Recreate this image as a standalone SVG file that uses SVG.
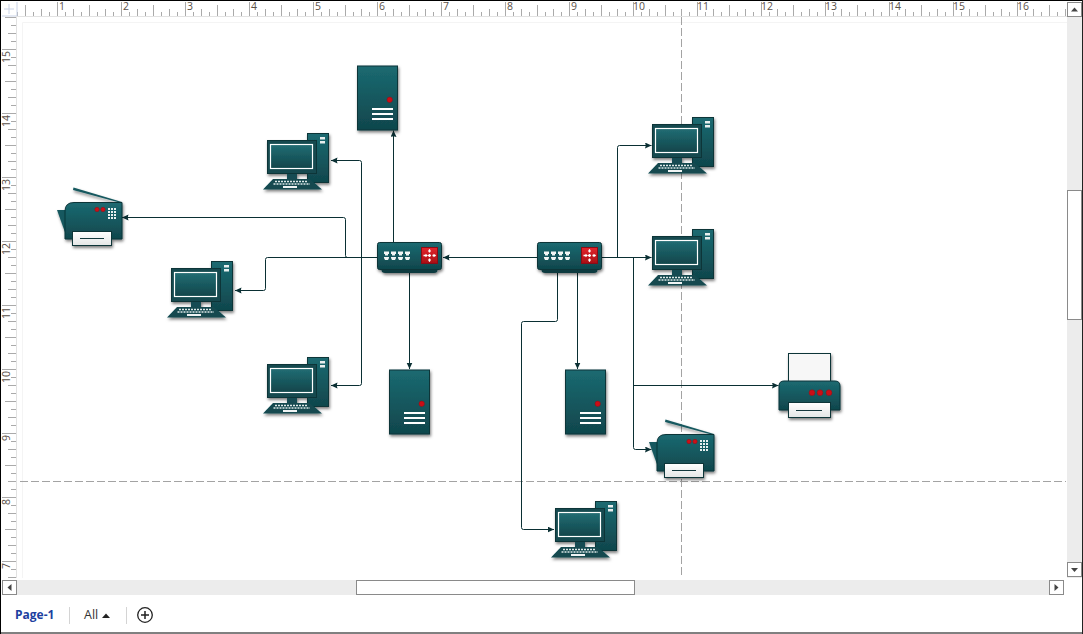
<svg xmlns="http://www.w3.org/2000/svg" width="1083" height="634" viewBox="0 0 1083 634">
<style>
.wire{fill:none;stroke:#0a2f33;stroke-width:1;marker-end:url(#tip)}
.edge{stroke:#0a3438;stroke-width:1}
.guide{stroke:#a3a3a3;stroke-width:1;stroke-dasharray:8 3;fill:none}
.rul{font:10.5px "Open Sans","Liberation Sans",sans-serif;fill:#5a5048}
.btn{fill:#fff;stroke:#8a8a8a;stroke-width:1}
.track{fill:#ececec}
.led{fill:#cc0f18;stroke:#8e1016;stroke-width:.5}
</style>
<defs>
<linearGradient id="teal" x1="0" y1="0" x2="0" y2="1"><stop offset="0" stop-color="#1b6a71"/><stop offset="1" stop-color="#10464c"/></linearGradient>
<linearGradient id="scr" x1="0" y1="0" x2="0" y2="1"><stop offset="0" stop-color="#226d74"/><stop offset="1" stop-color="#10454a"/></linearGradient>
<linearGradient id="red" x1="0" y1="0" x2="0" y2="1"><stop offset="0" stop-color="#e4252c"/><stop offset="1" stop-color="#a80f14"/></linearGradient>
<linearGradient id="paper" x1="0" y1="0" x2="0" y2="1"><stop offset="0" stop-color="#ffffff"/><stop offset="1" stop-color="#e4e6e6"/></linearGradient>
<filter id="soft" x="-20%" y="-20%" width="140%" height="140%"><feDropShadow dx="1" dy="2" stdDeviation="1.5" flood-color="#000" flood-opacity=".5"/></filter>
<marker id="tip" markerUnits="userSpaceOnUse" markerWidth="8" markerHeight="8" refX="6.500" refY="3" orient="auto"><path d="M0 0L6.500 3L0 6L.8 3Z" fill="#0a2f33"/></marker>
<pattern id="tickH" patternUnits="userSpaceOnUse" x="57" y="0" width="64" height="16">
<path d="M.5 2V16M8.500 12V16M16.500 9V16M24.500 12V16M32.500 5V16M40.500 12V16M48.500 9V16M56.500 12V16" stroke="#aaa" fill="none"/>
</pattern>
<pattern id="tickV" patternUnits="userSpaceOnUse" x="0" y="49" width="16" height="64">
<path d="M2 .5H16M11 8.500H16M8 16.500H16M11 24.500H16M5 32.500H16M11 40.500H16M8 48.500H16M11 56.500H16" stroke="#aaa" fill="none"/>
</pattern>
<!-- Tower server, origin at its top-left corner -->
<g id="server" filter="url(#soft)">
<rect x=".5" y=".5" width="40" height="64" fill="url(#teal)" class="edge"/>
<circle cx="32.700" cy="34.300" r="2.700" class="led"/>
<path d="M15 43.500H36M15 48.500H36M15 53.500H36" stroke="#fff" stroke-width="2"/>
</g>
<!-- Desktop computer, origin at the monitor's left and the tower's top -->
<g id="pc" filter="url(#soft)">
<rect x="40.500" y=".5" width="21" height="49" fill="url(#teal)" class="edge"/>
<rect x="53" y="4" width="5" height="2.500" fill="#e8eeee"/><rect x="53" y="8" width="5" height="2.500" fill="#e8eeee"/>
<rect x="20" y="39" width="10" height="8" fill="#134c52"/>
<rect x=".5" y="7.500" width="49" height="33" fill="#124a50" class="edge"/>
<rect x="3.500" y="11.500" width="42" height="24" fill="url(#scr)" stroke="#fff" stroke-width="1.200"/>
<path d="M6 46H43L55 56.500H-4Z" fill="#124a50"/>
<path d="M8 48.500H41M6.500 51H43" stroke="#dfe8e8" stroke-width="1.600" stroke-dasharray="2 1"/>
<rect x="16" y="53" width="14" height="2" fill="#f0f4f4"/>
</g>
<!-- Multifunction fax, origin at body left, body top -->
<g id="fax">
<g filter="url(#soft)">
<path d="M8 -12L8.500 -14.500L57 0L56 1Z" fill="#17595f"/>
<path d="M-8 8H1L2 36Z" fill="#17595f"/>
<path d="M9 .5H57V37H0V9Q0 .5 9 .5Z" fill="url(#teal)" class="edge"/>
<rect x="7.500" y="29.500" width="39" height="14" fill="url(#paper)" stroke="#0a3438"/>
</g>
<path d="M15 36.500H39" stroke="#12383c" stroke-width="1"/>
<circle cx="32" cy="7.500" r="2.200" class="led"/><circle cx="38" cy="7.500" r="2.200" class="led"/>
<path d="M43 7H52M43 10H52M43 13H52M43 16H52" stroke="#e8f0f0" stroke-width="1.800" stroke-dasharray="2 1"/>
</g>
<!-- Network switch, origin at its top-left corner -->
<g id="sw" filter="url(#soft)">
<path d="M4.500 26H60.500V28Q60.500 31 57 31H8Q4.500 31 4.500 28Z" fill="#0d3a3f"/>
<rect x=".5" y=".5" width="64" height="27" rx="2" fill="url(#teal)" class="edge"/>
<g fill="#f2f6f6">
<path d="M7 9.500H12V12H11V13.500H8V12H7ZM14 9.500H19V12H18V13.500H15V12H14ZM21 9.500H26V12H25V13.500H22V12H21ZM28 9.500H33V12H32V13.500H29V12H28Z"/>
<path d="M7 15H12V16L11 18H8L7 16ZM14 15H19V16L18 18H15L14 16ZM21 15H26V16L25 18H22L21 16ZM28 15H33V16L32 18H29L28 16Z"/>
</g>
<rect x="44.500" y="5.500" width="16" height="16" fill="url(#red)" stroke="#8a1015"/>
<path d="M52.500 7.500V19.500M46.500 13.500H58.500" stroke="#fff" stroke-width="1.300" stroke-dasharray="3 1.500"/>
<path d="M52.500 7L50.800 9.500H54.200ZM52.500 20L50.800 17.500H54.200ZM59 13.500L56.500 11.800V15.200ZM51 13.500L48.500 11.800V15.200Z" fill="#fff"/>
</g>
<!-- Desk printer, origin at body left, paper top -->
<g id="printer" filter="url(#soft)">
<rect x="9.500" y=".5" width="42" height="30" fill="#f7f7f7" stroke="#0a3438"/>
<path d="M5 28H56Q61 28 61 33V57H0V33Q0 28 5 28Z" fill="url(#teal)" class="edge"/>
<rect x="9.500" y="49.500" width="42" height="15" fill="url(#paper)" stroke="#0a3438"/>
<path d="M17 57.500H43" stroke="#12383c"/>
<circle cx="33" cy="39.700" r="2.900" class="led"/><circle cx="41" cy="39.700" r="2.900" class="led"/><circle cx="50" cy="39.700" r="2.900" class="led"/>
</g>
</defs>

<rect width="1083" height="634" fill="#fff"/>

<!-- Rulers -->
<g id="rulers">
<rect x="17" y="2" width="1050" height="14" fill="url(#tickH)"/>
<rect x="2" y="17" width="14" height="561" fill="url(#tickV)"/>
<path d="M17 2V16H2M9 4V14M4 9H14" stroke="#c9d2e6" fill="none"/>
<path d="M16.500 16.500H1067M16.500 16.500V578" stroke="#e2e2e2" fill="none"/>
<g class="rul">
<text x="59" y="10">1</text><text x="123" y="10">2</text><text x="187" y="10">3</text><text x="251" y="10">4</text>
<text x="315" y="10">5</text><text x="379" y="10">6</text><text x="443" y="10">7</text><text x="507" y="10">8</text>
<text x="571" y="10">9</text><text x="633" y="10">10</text><text x="697" y="10">11</text><text x="761" y="10">12</text>
<text x="825" y="10">13</text><text x="889" y="10">14</text><text x="953" y="10">15</text><text x="1017" y="10">16</text>
<text transform="translate(10 63) rotate(-90)">15</text><text transform="translate(10 127) rotate(-90)">14</text>
<text transform="translate(10 191) rotate(-90)">13</text><text transform="translate(10 255) rotate(-90)">12</text>
<text transform="translate(10 319) rotate(-90)">11</text><text transform="translate(10 383) rotate(-90)">10</text>
<text transform="translate(10 441) rotate(-90)">9</text><text transform="translate(10 505) rotate(-90)">8</text>
<text transform="translate(10 569) rotate(-90)">7</text>
</g>
</g>

<!-- Page outline and drawing guides -->
<path d="M22.500 578V22.500H1067" fill="none" stroke="#f4f4f4"/>
<path class="guide" d="M681.500 17V578"/>
<path class="guide" d="M20 481.500H1066"/>

<!-- Connectors -->
<g id="connectors">
<path class="wire" d="M393.500 242V130.500"/>
<path class="wire" d="M377 257.500H347.500Q345.500 257.500 345.500 255.500V219.500Q345.500 217.500 343.500 217.500H122"/>
<path class="wire" d="M377 257.500H267.500Q265.500 257.500 265.500 259.500V288.500Q265.500 290.500 263.500 290.500H235"/>
<path class="wire" d="M361.500 257.500V162.500Q361.500 160.500 359.500 160.500H331"/>
<path class="wire" d="M361.500 257.500V383.500Q361.500 385.500 359.500 385.500H331"/>
<path class="wire" d="M409.500 273V369"/>
<path class="wire" d="M537 257.500H443"/>
<path class="wire" d="M577.500 273V369"/>
<path class="wire" d="M557.500 273V319.500Q557.500 321.500 555.500 321.500H523.500Q521.500 321.500 521.500 323.500V527.500Q521.500 529.500 523.500 529.500H554"/>
<path class="wire" d="M602 257.500H651.500"/>
<path class="wire" d="M617.500 257.500V147.500Q617.500 145.500 619.500 145.500H651.500"/>
<path class="wire" d="M633.500 257.500V447.500Q633.500 449.500 635.500 449.500H651.500"/>
<path class="wire" d="M633.500 385.500H778.500"/>
</g>

<!-- Nodes -->
<g id="server-top"><use href="#server" x="357" y="65.500"/></g>
<g id="server-left"><use href="#server" x="389" y="369.500"/></g>
<g id="server-right"><use href="#server" x="565" y="369.500"/></g>
<g id="pc-upper-left"><use href="#pc" x="267" y="133"/></g>
<g id="pc-middle-left"><use href="#pc" x="171" y="261"/></g>
<g id="pc-lower-left"><use href="#pc" x="267" y="357"/></g>
<g id="pc-upper-right"><use href="#pc" x="652" y="117"/></g>
<g id="pc-middle-right"><use href="#pc" x="652" y="229"/></g>
<g id="pc-bottom"><use href="#pc" x="555" y="501"/></g>
<g id="fax-left"><use href="#fax" x="65" y="202"/></g>
<g id="fax-right"><use href="#fax" x="657" y="434"/></g>
<g id="switch-left"><use href="#sw" x="377" y="242"/></g>
<g id="switch-right"><use href="#sw" x="537" y="242"/></g>
<g id="printer-right"><use href="#printer" x="779" y="353"/></g>

<!-- Scroll bars -->
<g id="scrollbars">
<rect class="track" x="1067" y="16" width="15" height="562"/>
<rect class="track" x="17" y="580" width="1032" height="15"/>
<rect class="btn" x="1067.500" y="2.500" width="14" height="14"/>
<path d="M1071 11.500L1074.500 7.500L1078 11.500Z" fill="#444"/>
<rect class="btn" x="1067.500" y="190.500" width="14" height="129"/>
<rect class="btn" x="1067.500" y="562.500" width="14" height="14"/>
<path d="M1071 568L1074.500 572L1078 568Z" fill="#444"/>
<rect class="btn" x="2.500" y="580.500" width="14" height="14"/>
<path d="M11.500 584L7.500 587.500L11.500 591Z" fill="#444"/>
<rect class="btn" x="356.500" y="580.500" width="278" height="14"/>
<rect class="btn" x="1049.500" y="580.500" width="14" height="14"/>
<path d="M1054.500 584L1058.500 587.500L1054.500 591Z" fill="#444"/>
</g>

<!-- Page tabs -->
<g id="tabs">
<text x="15" y="619" font-family="'Open Sans','Liberation Sans',sans-serif" font-size="12" font-weight="700" fill="#1c3fa0">Page-1</text>
<path d="M69.500 607V624M126.500 607V624" stroke="#d4d4d4"/>
<text x="84" y="619" font-family="'Open Sans','Liberation Sans',sans-serif" font-size="12.500" fill="#333">All</text>
<path d="M102 618L106 613.500L110 618Z" fill="#222"/>
<circle cx="145" cy="615" r="7.300" fill="none" stroke="#222" stroke-width="1.300"/>
<path d="M141 615H149M145 611V619" stroke="#222" stroke-width="1.500"/>
</g>

<!-- Window frame -->
<path d="M0 .5H1083M.5 0V634M0 633H1083" stroke="#000" fill="none"/>
<path d="M1082.500 0V634" stroke="#222"/>
</svg>
